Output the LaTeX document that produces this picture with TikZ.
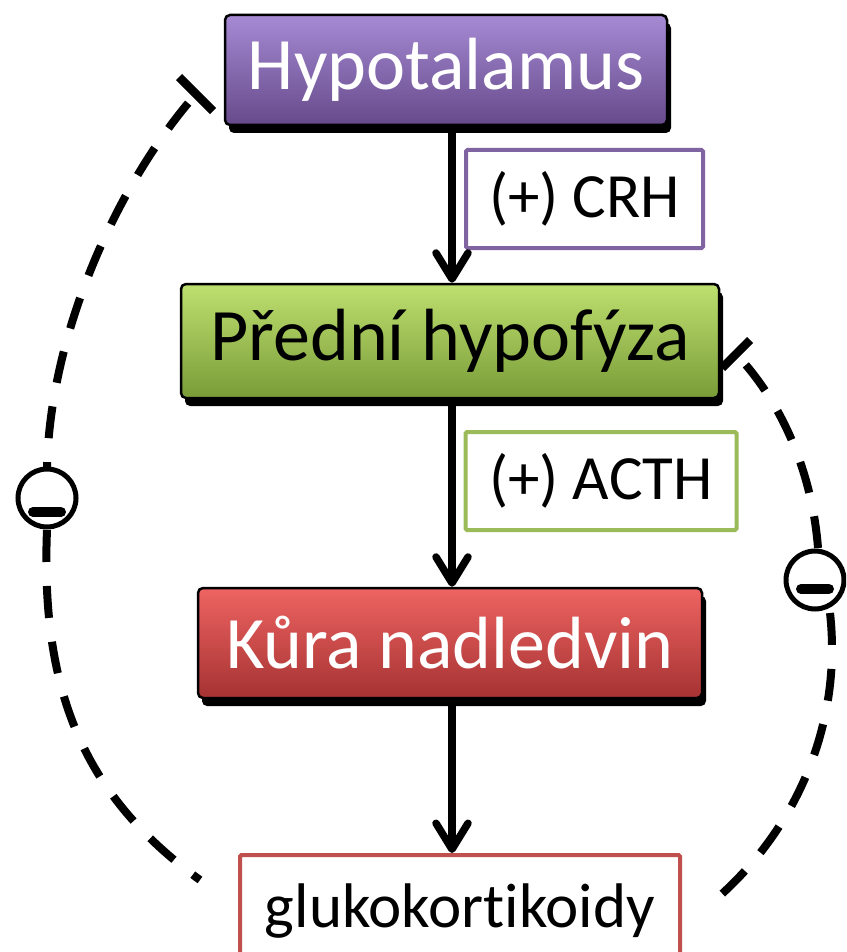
\documentclass[tikz,border=0pt]{standalone}
\usepackage{fontspec}
\setmainfont{Carlito}[Ligatures=NoCommon]
\usetikzlibrary{arrows.meta,shadows,calc}
\definecolor{purTop}{HTML}{A68AD4}
\definecolor{purMid}{HTML}{8263AE}
\definecolor{purBot}{HTML}{664A8A}
\definecolor{grnTop}{HTML}{BEE070}
\definecolor{grnMid}{HTML}{9CC64C}
\definecolor{grnBot}{HTML}{7A9C38}
\definecolor{redTop}{HTML}{EE6462}
\definecolor{redMid}{HTML}{D64443}
\definecolor{redBot}{HTML}{A53232}
\definecolor{crhCol}{HTML}{8064A2}
\definecolor{acthCol}{HTML}{9BBB59}
\definecolor{glukCol}{HTML}{C0504D}
\tikzset{
  mainbox/.style={draw=black, line width=2.5pt, rounded corners=5pt, inner sep=0pt,
    general shadow={shadow xshift=4pt, shadow yshift=-8pt, fill=black, rounded corners=5pt},
    font=\fontsize{74}{80}\selectfont},
  labbox/.style={draw=#1, fill=white, line width=4pt, inner sep=0pt, rounded corners=1.5pt,
    font=\fontsize{63}{70}\selectfont},
  flow/.style={line width=8pt, -{Straight Barb[length=26pt, width=32pt, line width=7.5pt, round]}},
  fb/.style={line width=8pt, dash pattern=on 32pt off 24pt},
  barline/.style={line width=8.5pt},
  minuscirc/.style={circle, draw=black, fill=white, line width=5pt, minimum size=58pt, inner sep=0pt},
  minusbar/.style={line width=10pt, line cap=round}
}
\begin{document}
\begin{tikzpicture}[x=1pt, y=-1pt]
\useasboundingbox (0,0) rectangle (846,952);
\clip (0,0) rectangle (846,952);
\fill[white] (0,0) rectangle (846,952);

% main boxes
\node[mainbox, top color=purTop, middle color=purMid, bottom color=purBot, text=white,
      minimum width=442pt, minimum height=110pt] (hyp) at (446,70) {Hypotalamus};
\node[mainbox, top color=grnTop, middle color=grnMid, bottom color=grnBot, text=black,
      minimum width=538pt, minimum height=114pt] (pre) at (450,341) {Přední hypofýza};
\node[mainbox, top color=redTop, middle color=redMid, bottom color=redBot, text=white,
      minimum width=504pt, minimum height=110pt] (kura) at (450,643) {Kůra nadledvin};
\node[draw=glukCol, fill=white, line width=4pt, inner sep=0pt, rounded corners=1.5pt,
      minimum width=440pt, minimum height=112pt,
      font=\fontsize{63}{70}\selectfont] (gluk) at (460,911) {glukokortikoidy};

% labels
\node[labbox=crhCol, minimum width=237pt, minimum height=98pt] (crh) at (584.5,199) {(+) CRH};
\node[labbox=acthCol, minimum width=271pt, minimum height=98pt] (acth) at (601,481) {(+) ACTH};

% arrow axis
\coordinate (ax) at (452,0);
\draw[flow] (hyp.south -| ax) -- (pre.north -| ax);
\draw[flow] (pre.south -| ax) -- (kura.north -| ax);
\draw[flow] (kura.south -| ax) -- (gluk.north -| ax);

% feedback: left
\coordinate (lcen) at (47,498);
\coordinate (lbar) at (196,94);
\coordinate (lend) at (200,880);
\coordinate (ltop) at (47,468);
\coordinate (lbot) at (47,530);
\draw[fb, dash phase=44pt] (lbar) .. controls (120,180) and (50,330) .. (ltop);
\draw[barline] ($(lbar)+(-17,-17)$) -- ($(lbar)+(17,17)$);
\draw[fb] (lbot) .. controls (40,700) and (90,800) .. (lend);
\node[minuscirc] (lc) at (lcen) {};
\draw[minusbar] ($(lc.center)+(-14,14)$) -- ($(lc.center)+(14,14)$);

% feedback: right
\coordinate (rcen) at (815,580);
\coordinate (rbar) at (736,354);
\coordinate (rend) at (708,906);
\coordinate (rtop) at (818,548);
\coordinate (rbot) at (830,613);
\draw[fb] (rtop) .. controls (812,470) and (780,400) .. (rbar);
\draw[barline] ($(rbar)+(-14,14)$) -- ($(rbar)+(14,-14)$);
\draw[fb] (rbot) .. controls (842,720) and (800,830) .. (rend);
\node[minuscirc] (rc) at (rcen) {};
\draw[minusbar] ($(rc.center)+(-14,9)$) -- ($(rc.center)+(14,9)$);
\end{tikzpicture}
\end{document}
